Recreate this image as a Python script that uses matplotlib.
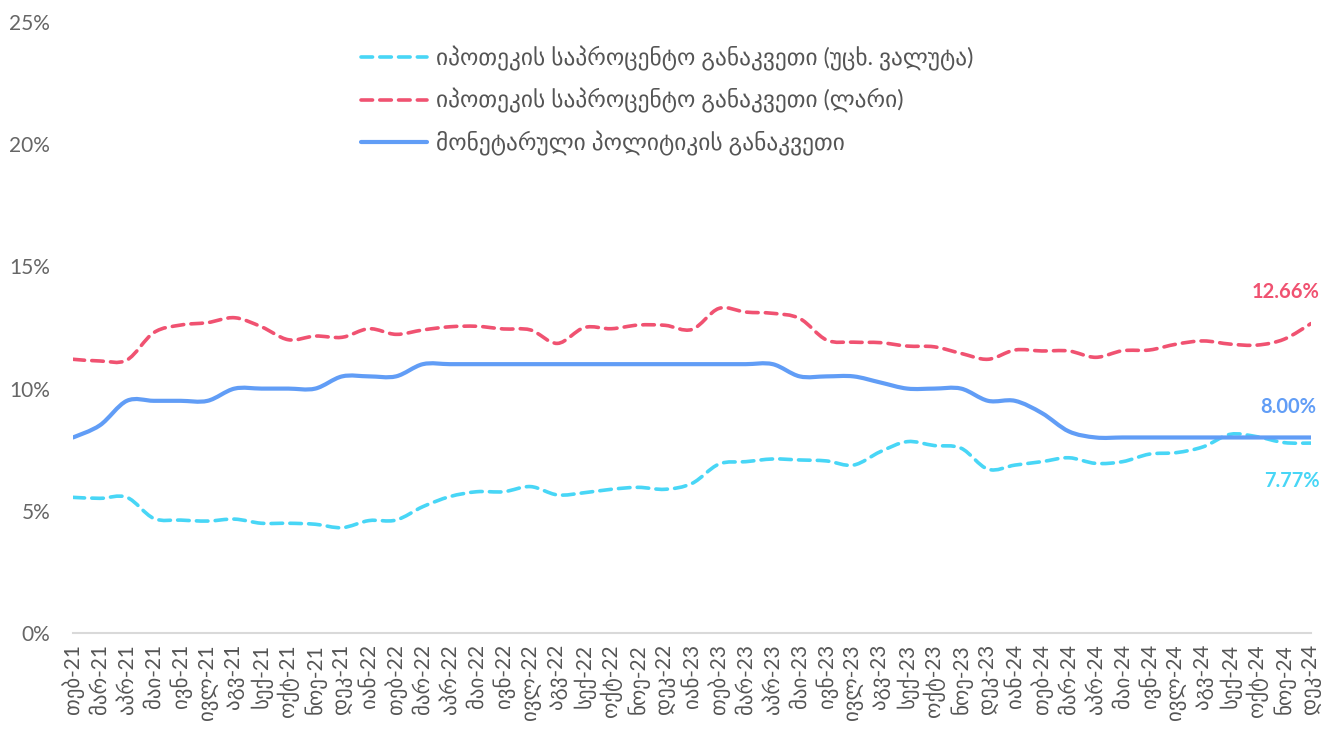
import matplotlib
matplotlib.use('Agg')
import matplotlib.pyplot as plt
import numpy as np
from matplotlib.path import Path
from matplotlib.patches import PathPatch
from matplotlib.lines import Line2D
from matplotlib.ticker import FuncFormatter

plt.rcParams['font.family'] = ['Lato', 'DejaVu Sans']

# months Feb-21 .. Dec-24
months = ['იან', 'თებ', 'მარ', 'აპრ', 'მაი', 'ივნ', 'ივლ', 'აგვ', 'სექ', 'ოქტ', 'ნოე', 'დეკ']
labels = []
for yr in ['21', '22', '23', '24']:
    for m in months:
        labels.append(m + '-' + yr)
labels = labels[1:]

fx_rate = [5.55, 5.51, 5.55, 4.69, 4.62, 4.58, 4.66, 4.49, 4.49, 4.45, 4.31,
           4.60, 4.62, 5.17, 5.58, 5.78, 5.78, 5.99, 5.65, 5.74, 5.88, 5.96, 5.88,
           6.12, 6.91, 7.01, 7.12, 7.08, 7.04, 6.87, 7.42, 7.83, 7.67, 7.56, 6.70,
           6.87, 7.01, 7.17, 6.94, 7.01, 7.32, 7.38, 7.62, 8.13, 8.03, 7.79, 7.77]
gel_rate = [11.20, 11.13, 11.17, 12.29, 12.60, 12.70, 12.90, 12.53, 12.00, 12.15, 12.10,
            12.45, 12.22, 12.40, 12.53, 12.55, 12.44, 12.40, 11.85, 12.50, 12.45, 12.60, 12.59,
            12.42, 13.28, 13.13, 13.08, 12.87, 11.99, 11.90, 11.88, 11.74, 11.71, 11.44, 11.20,
            11.58, 11.54, 11.54, 11.28, 11.55, 11.58, 11.82, 11.95, 11.82, 11.78, 12.02, 12.66]
policy_rate = [8.0, 8.5, 9.5, 9.5, 9.5, 9.5, 10.0, 10.0, 10.0, 10.0, 10.5,
               10.5, 10.5, 11.0, 11.0, 11.0, 11.0, 11.0, 11.0, 11.0, 11.0, 11.0, 11.0,
               11.0, 11.0, 11.0, 11.0, 10.5, 10.5, 10.5, 10.25, 10.0, 10.0, 10.0, 9.5,
               9.5, 9.0, 8.25, 8.0, 8.0, 8.0, 8.0, 8.0, 8.0, 8.0, 8.0, 8.0]

legend_labels = ['იპოთეკის საპროცენტო განაკვეთი (უცხ. ვალუტა)',
                 'იპოთეკის საპროცენტო განაკვეთი (ლარი)',
                 'მონეტარული პოლიტიკის განაკვეთი']

c_fx = '#48D6F6'
c_gel = '#F05271'
c_pol = '#619DF6'


def smooth_path(x, y):
    # catmull-rom segments as cubic bezier (rendering only)
    x = np.asarray(x, float)
    y = np.asarray(y, float)
    n = len(x)
    verts = [(x[0], y[0])]
    codes = [Path.MOVETO]
    for i in range(n - 1):
        p0 = max(i - 1, 0)
        p3 = min(i + 2, n - 1)
        c1 = (x[i] + (x[i + 1] - x[p0]) / 6, y[i] + (y[i + 1] - y[p0]) / 6)
        c2 = (x[i + 1] - (x[p3] - x[i]) / 6, y[i + 1] - (y[p3] - y[i]) / 6)
        verts += [c1, c2, (x[i + 1], y[i + 1])]
        codes += [Path.CURVE4] * 3
    return Path(verts, codes)


fig = plt.figure(figsize=(13.35, 7.29), dpi=100)
ax = fig.add_axes([0.0547, 0.1317, 0.9273, 0.8381])

xs = np.arange(len(labels))
series = [(fx_rate, c_fx, (0, (3.2, 2.0)), 2.6),
          (gel_rate, c_gel, (0, (3.2, 2.0)), 2.6),
          (policy_rate, c_pol, '-', 3.0)]
handles = []
for vals, col, ls, lw in series:
    patch = PathPatch(smooth_path(xs, vals), fill=False, edgecolor=col,
                      linewidth=lw, linestyle=ls, capstyle='round', joinstyle='round')
    ax.add_patch(patch)
    handles.append(Line2D([], [], color=col, linewidth=lw, linestyle=ls,
                          solid_capstyle='round', dash_capstyle='round'))

ax.set_xlim(0, len(labels) - 1)
ax.set_ylim(0, 25)
ax.set_yticks([0, 5, 10, 15, 20, 25])
ax.yaxis.set_major_formatter(FuncFormatter(lambda v, p: '%d%%' % v))
ax.set_xticks(xs)
ax.set_xticklabels(labels, rotation=90, fontsize=15, color='#555555')
ax.tick_params(axis='y', labelsize=15, colors='#666666', length=0, pad=16.5)
ax.tick_params(axis='x', length=0, pad=8)

for s in ['top', 'right', 'left']:
    ax.spines[s].set_visible(False)
ax.spines['bottom'].set_color('#d9d9d9')
ax.spines['bottom'].set_linewidth(1.5)

# end labels
ax.annotate('12.66%', (xs[-1], gel_rate[-1]), xytext=(6, 23), textcoords='offset points',
            ha='right', va='center', fontsize=14.5, fontweight='bold', color=c_gel)
ax.annotate('8.00%', (xs[-1], policy_rate[-1]), xytext=(4, 22), textcoords='offset points',
            ha='right', va='center', fontsize=14.5, fontweight='bold', color=c_pol)
ax.annotate('7.77%', (xs[-1], fx_rate[-1]), xytext=(6, -27), textcoords='offset points',
            ha='right', va='center', fontsize=14.5, fontweight='bold', color=c_fx)

ax.legend(handles, legend_labels, loc='upper left', bbox_to_anchor=(0.255, 0.966),
          bbox_transform=fig.transFigure, frameon=False, fontsize=16.8,
          handlelength=2.8, labelspacing=0.75, handletextpad=0.4, labelcolor='#555555')

fig.savefig('out.png', dpi=100)
